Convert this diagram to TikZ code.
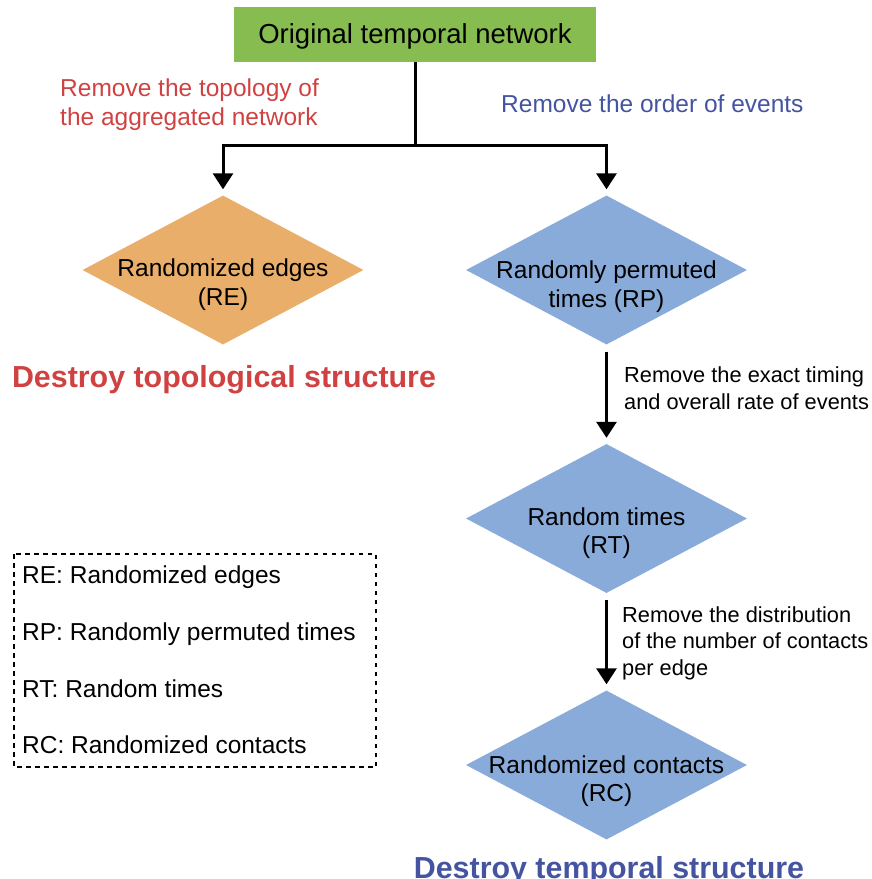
\documentclass[tikz,border=0pt]{standalone}
\usepackage{fontspec}
\setmainfont{Liberation Sans}
\usetikzlibrary{shapes.geometric,arrows.meta}
\definecolor{titlegreen}{RGB}{134,188,80}
\definecolor{reorange}{RGB}{232,174,106}
\definecolor{diablue}{RGB}{136,171,218}
\definecolor{txtred}{RGB}{208,66,66}
\definecolor{txtblue}{RGB}{68,84,160}
\tikzset{
  dia/.style={diamond, draw=none, minimum width=281pt, minimum height=149pt, inner sep=0pt},
  diatext/.style={align=center, inner sep=0pt, font=\fontsize{24.5}{28.5}\selectfont},
  conn/.style={line width=3pt, line join=miter},
  arr/.style={conn, -{Triangle[width=20pt,length=16pt]}},
  note/.style={align=left, inner sep=0pt, font=\fontsize{21.8}{26.5}\selectfont},
  legend/.style={anchor=base west, inner sep=0pt, font=\fontsize{24.5}{29}\selectfont},
  big/.style={inner sep=0pt, font=\fontsize{30.4}{36}\selectfont\bfseries}
}
\begin{document}
\begin{tikzpicture}[x=1pt,y=-1pt]
\useasboundingbox (0,0) rectangle (872,879);
% title
\node[fill=titlegreen, minimum width=362pt, minimum height=55pt, inner sep=0pt] (title) at (415,34.5) {};
\node[anchor=base, inner sep=0pt, font=\fontsize{27.5}{32}\selectfont] (titletxt) at (415,43) {Original temporal network};
% diamonds
\node[dia, fill=reorange] (re) at (223,270) {};
\node[dia, fill=diablue] (rp) at (606.5,270) {};
\node[dia, fill=diablue] (rt) at (606.5,518.5) {};
\node[dia, fill=diablue] (rc) at (606.5,765) {};
\node[diatext] (retxt) at (223,284.5) {Randomized edges\\(RE)};
\node[diatext] (rptxt) at (606.5,286.5) {Randomly permuted\\times (RP)};
\node[diatext] (rttxt) at (606.5,533) {Random times\\(RT)};
\node[diatext] (rctxt) at (606.5,781) {Randomized contacts\\(RC)};
% connectors
\coordinate (j) at (415,145);
\draw[conn] (title.south) -- (j);
\draw[arr, shorten >=6pt] (j) -| (re.north);
\draw[arr, shorten >=6pt] (j) -| (rp.north);
\draw[arr, shorten <=7pt, shorten >=6pt] (rp.south) -- (rt.north);
\draw[arr, shorten <=7pt, shorten >=6pt] (rt.south) -- (rc.north);
% annotations (base = last line's baseline)
\node[note, anchor=base west, text=txtred, font=\fontsize{24.5}{29}\selectfont] (lbl1) at (60,125) {Remove the topology of\\the aggregated network};
\node[anchor=base west, inner sep=0pt, text=txtblue, font=\fontsize{24.5}{29}\selectfont] (lbl2) at (501,112) {Remove the order of events};
\node[note, anchor=base west] (lbl3) at (624,409) {Remove the exact timing\\and overall rate of events};
\node[note, anchor=base west] (lbl4) at (622,675) {Remove the distribution\\of the number of contacts\\per edge};
% big labels
\node[big, anchor=base, text=txtred] (d1) at (224,387) {Destroy topological structure};
\node[big, anchor=base, text=txtblue] (d2) at (609,878) {Destroy temporal structure};
% legend
\draw[dashed, line width=1.1pt, dash pattern=on 4.5pt off 4.5pt] (14,554) rectangle (376,767);
\node[legend] (l1) at (22,583) {RE: Randomized edges};
\node[legend] (l2) at (22,640) {RP: Randomly permuted times};
\node[legend] (l3) at (22,697) {RT: Random times};
\node[legend] (l4) at (22,753) {RC: Randomized contacts};
\end{tikzpicture}
\end{document}
